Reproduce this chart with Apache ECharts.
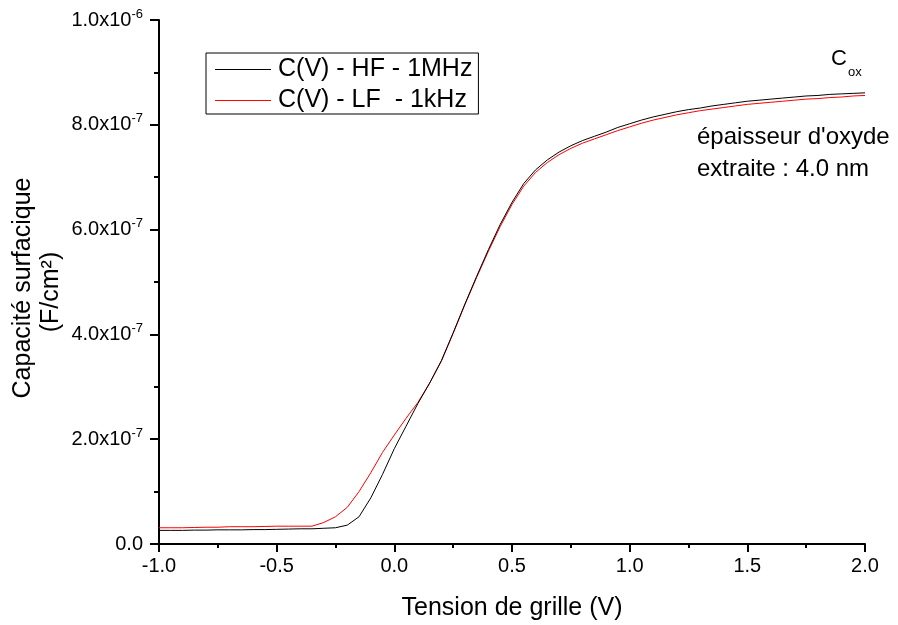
<!DOCTYPE html>
<html>
<head>
<meta charset="utf-8">
<script src="https://cdn.jsdelivr.net/npm/echarts@6/dist/echarts.min.js"></script>
<style>html,body{margin:0;padding:0;background:#fff}#c{width:898px;height:625px}</style>
</head>
<body>
<div id="c"></div>
<script>
// Gate voltage (V)
const voltage = [-1.0,-0.95,-0.9,-0.85,-0.8,-0.75,-0.7,-0.65,-0.6,-0.55,-0.5,-0.45,-0.4,-0.35,-0.3,-0.25,-0.2,-0.15,-0.1,-0.05,
  0.0,0.05,0.1,0.15,0.2,0.25,0.3,0.35,0.4,0.45,0.5,0.55,0.6,0.65,0.7,0.75,0.8,0.85,0.9,0.95,
  1.0,1.05,1.1,1.15,1.2,1.25,1.3,1.35,1.4,1.45,1.5,1.55,1.6,1.65,1.7,1.75,1.8,1.85,1.9,1.95,2.0];
// Capacitance, in units of 1e-7 F/cm²
const capHF = [0.26,0.26,0.26,0.265,0.265,0.27,0.27,0.27,0.275,0.275,0.28,0.285,0.29,0.29,0.30,0.31,0.36,0.52,0.88,1.33,
  1.82,2.25,2.68,3.07,3.50,4.03,4.58,5.11,5.62,6.10,6.52,6.88,7.14,7.33,7.48,7.60,7.70,7.78,7.86,7.95,
  8.02,8.09,8.15,8.20,8.25,8.29,8.32,8.36,8.39,8.42,8.45,8.47,8.49,8.51,8.53,8.55,8.56,8.58,8.59,8.60,8.61];
const capLF = [0.31,0.31,0.31,0.315,0.32,0.32,0.33,0.33,0.33,0.335,0.34,0.34,0.34,0.34,0.41,0.52,0.70,1.00,1.36,1.75,
  2.08,2.40,2.70,3.07,3.49,4.02,4.57,5.09,5.59,6.06,6.48,6.83,7.09,7.28,7.43,7.55,7.65,7.73,7.81,7.89,
  7.96,8.03,8.09,8.14,8.19,8.23,8.27,8.30,8.33,8.36,8.39,8.41,8.43,8.45,8.47,8.49,8.50,8.52,8.53,8.55,8.56];
const seriesNames = ['C(V) - HF - 1MHz', 'C(V) - LF  - 1kHz'];
const yTickLabels = {0:'0.0', 2:'2.0x10|-7', 4:'4.0x10|-7', 6:'6.0x10|-7', 8:'8.0x10|-7', 10:'1.0x10|-6'};

const FONT = 'Liberation Sans, Arial, sans-serif';
const chart = echarts.init(document.getElementById('c'), null, {renderer:'canvas'});
const pair = (xs, ys) => xs.map((x,i)=>[x, ys[i]]);

chart.setOption({
  animation:false,
  backgroundColor:'#fff',
  textStyle:{fontFamily:FONT},
  grid:{left:159, top:20, right:33, bottom:81, containLabel:false},
  legend:{
    left:206, top:53, orient:'vertical',
    padding:[4,6,1,9], itemGap:6,
    borderColor:'#000', borderWidth:1,
    icon:'rect', itemWidth:56, itemHeight:1,
    textStyle:{fontFamily:FONT, fontSize:25, color:'#000', padding:[0,0,0,2]},
    data:seriesNames
  },
  xAxis:{
    type:'value', min:-1, max:2, interval:0.5,
    axisLine:{onZero:false, lineStyle:{color:'#000', width:2}},
    axisTick:{show:true, length:8, lineStyle:{color:'#000', width:2}},
    minorTick:{show:true, splitNumber:2, length:4, lineStyle:{color:'#000', width:2}},
    splitLine:{show:false},
    axisLabel:{margin:12, fontSize:20, color:'#000', fontFamily:FONT, formatter:v=>v.toFixed(1)}
  },
  yAxis:{
    type:'value', min:0, max:10, interval:2,
    axisLine:{show:true, onZero:false, lineStyle:{color:'#000', width:2}},
    axisTick:{show:true, length:9, lineStyle:{color:'#000', width:2}},
    minorTick:{show:true, splitNumber:2, length:5, lineStyle:{color:'#000', width:2}},
    splitLine:{show:false},
    axisLabel:{margin:16, color:'#000', fontFamily:FONT,
      formatter:v=>{const s=yTickLabels[v]; if(!s) return ''; const p=s.split('|'); return p.length>1?'{b|'+p[0]+'}{s|'+p[1]+'}':'{b|'+p[0]+'}';},
      rich:{b:{fontSize:20, fontFamily:FONT, color:'#000'}, s:{fontSize:13, fontFamily:FONT, color:'#000', padding:[0,0,12,0]}}
    }
  },
  series:[
    {name:seriesNames[0], type:'line', data:pair(voltage,capHF), symbol:'none', lineStyle:{color:'#000', width:1}, itemStyle:{color:'#000'}, z:3},
    {name:seriesNames[1], type:'line', data:pair(voltage,capLF), symbol:'none', lineStyle:{color:'#ff0000', width:1}, itemStyle:{color:'#ff0000'}, z:2}
  ],
  graphic:[
    {type:'text', x:512, y:608, style:{text:'Tension de grille (V)', font:'25px '+FONT, fill:'#000', align:'center', verticalAlign:'middle'}},
    {type:'text', x:23, y:288, rotation:Math.PI/2, style:{text:'Capacité surfacique', font:'25px '+FONT, fill:'#000', align:'center', verticalAlign:'middle'}},
    {type:'text', x:51, y:292, rotation:Math.PI/2, style:{text:'(F/cm²)', font:'25px '+FONT, fill:'#000', align:'center', verticalAlign:'middle'}},
    {type:'text', x:831, y:59, style:{text:'C', font:'22px '+FONT, fill:'#000', align:'left', verticalAlign:'middle'}},
    {type:'text', x:848, y:72, style:{text:'ox', font:'13px '+FONT, fill:'#000', align:'left', verticalAlign:'middle'}},
    {type:'text', x:697, y:137, style:{text:'épaisseur d\'oxyde', font:'24px '+FONT, fill:'#000', align:'left', verticalAlign:'middle'}},
    {type:'text', x:697, y:169, style:{text:'extraite : 4.0 nm', font:'24px '+FONT, fill:'#000', align:'left', verticalAlign:'middle'}}
  ]
});
</script>
</body>
</html>
